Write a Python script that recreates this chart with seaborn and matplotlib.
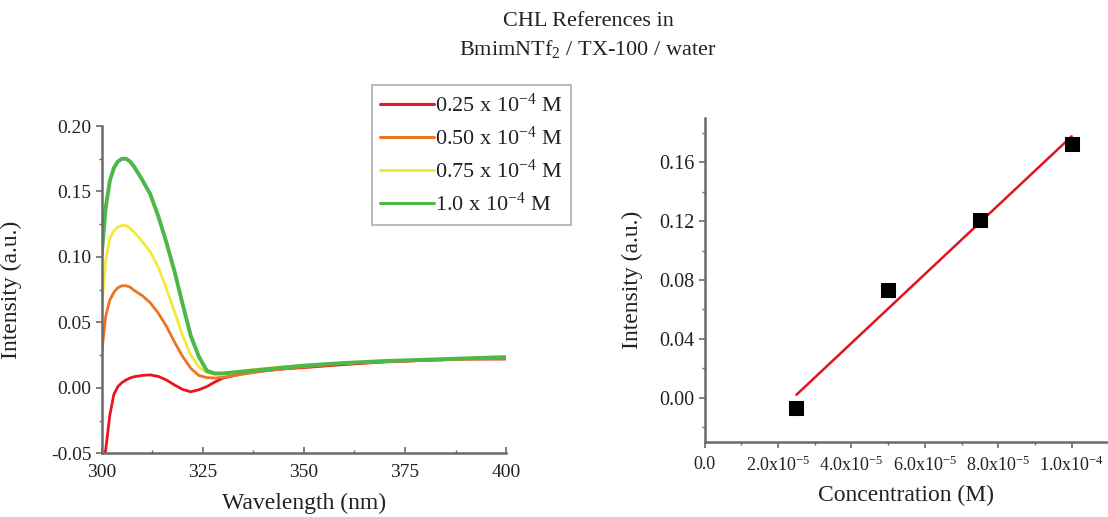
import numpy as np
import pandas as pd
import matplotlib
matplotlib.use("Agg")
import matplotlib.pyplot as plt
import seaborn as sns
from matplotlib.ticker import MultipleLocator, FormatStrFormatter, FixedLocator, FixedFormatter

# ---------------- data ----------------
wavelength = [300, 301, 302, 303, 304, 305, 306, 307, 308, 310, 312, 314, 316, 318, 320,
              322, 324, 326, 328, 330, 335, 340, 345, 350, 360, 370, 380, 390, 400]

int_025 = [-0.065, -0.047, -0.021, -0.005, 0.001, 0.004, 0.006, 0.0075, 0.0085, 0.0095, 0.0099,
           0.0087, 0.006, 0.0022, -0.0012, -0.003, -0.0015, 0.001, 0.0045, 0.0075, 0.011, 0.013,
           0.0145, 0.0155, 0.0178, 0.0198, 0.021, 0.022, 0.022]
int_050 = [0.027, 0.055, 0.067, 0.073, 0.0765, 0.078, 0.078, 0.077, 0.0745, 0.0705, 0.065,
           0.057, 0.047, 0.035, 0.024, 0.015, 0.0095, 0.0078, 0.0075, 0.008, 0.0105, 0.0128,
           0.0145, 0.016, 0.0185, 0.020, 0.021, 0.022, 0.0225]
int_075 = [0.060, 0.098, 0.114, 0.120, 0.123, 0.124, 0.124, 0.122, 0.119, 0.112, 0.104,
           0.092, 0.076, 0.058, 0.040, 0.025, 0.016, 0.0115, 0.0105, 0.011, 0.013, 0.0148,
           0.016, 0.0172, 0.019, 0.0205, 0.0215, 0.0225, 0.0235]
int_100 = [0.102, 0.138, 0.158, 0.168, 0.173, 0.175, 0.175, 0.173, 0.169, 0.159, 0.148,
           0.131, 0.111, 0.089, 0.064, 0.040, 0.024, 0.013, 0.011, 0.011, 0.0125, 0.014,
           0.0155, 0.017, 0.019, 0.0205, 0.0215, 0.0225, 0.0235]

series_labels = [r"0.25 x 10$^{-4}$ M", r"0.50 x 10$^{-4}$ M",
                 r"0.75 x 10$^{-4}$ M", r"1.0 x 10$^{-4}$ M"]
series_colors = ["#e8141e", "#ec7424", "#f2ea3a", "#4cb848"]

concentration = [2.5e-5, 5.0e-5, 7.5e-5, 1.0e-4]
conc_intensity = [-0.0072, 0.0735, 0.1205, 0.1725]

conc_ticks = [0.0, 2e-5, 4e-5, 6e-5, 8e-5, 1e-4]
conc_tick_labels = ["0.0", r"2.0x10$^{-5}$", r"4.0x10$^{-5}$", r"6.0x10$^{-5}$",
                    r"8.0x10$^{-5}$", r"1.0x10$^{-4}$"]

title_line1 = "CHL References in"
title_line2 = r"BmimNTf$_2$ / TX-100 / water"

# ---------------- style ----------------
sns.set_style("ticks")
plt.rcParams["font.family"] = ["Liberation Serif", "DejaVu Serif"]
plt.rcParams["mathtext.fontset"] = "custom"
plt.rcParams["mathtext.rm"] = "Liberation Serif"
plt.rcParams["mathtext.it"] = "Liberation Serif"
plt.rcParams["mathtext.bf"] = "Liberation Serif:bold"
plt.rcParams["axes.unicode_minus"] = False
spine_col = "#6a6a6a"
plt.rcParams["axes.edgecolor"] = spine_col
plt.rcParams["xtick.color"] = spine_col
plt.rcParams["ytick.color"] = spine_col
plt.rcParams["xtick.labelcolor"] = "#222222"
plt.rcParams["ytick.labelcolor"] = "#222222"
plt.rcParams["text.color"] = "#222222"
plt.rcParams["axes.labelcolor"] = "#222222"

fig = plt.figure(figsize=(11.08, 5.17), dpi=100)
ax1 = fig.add_axes([0.0918, 0.1232, 0.365, 0.633])
ax2 = fig.add_axes([0.636, 0.1457, 0.363, 0.6255])

# ---------------- left: spectra ----------------
frames = []
for lab, vals in zip(series_labels, [int_025, int_050, int_075, int_100]):
    frames.append(pd.DataFrame({"Wavelength": wavelength, "Intensity": vals, "Sample": lab}))
df = pd.concat(frames, ignore_index=True)

sns.lineplot(data=df, x="Wavelength", y="Intensity", hue="Sample", hue_order=series_labels,
             palette=series_colors, estimator=None, sort=False, linewidth=2.0, ax=ax1)
ax1.lines[3].set_linewidth(2.8)
for ln in ax1.lines:
    ln.set_solid_joinstyle("round")

ax1.set_xlim(300, 400)
ax1.set_ylim(-0.05, 0.20)
ax1.xaxis.set_major_locator(MultipleLocator(25))
ax1.xaxis.set_minor_locator(MultipleLocator(12.5))
ax1.yaxis.set_major_locator(MultipleLocator(0.05))
ax1.yaxis.set_minor_locator(MultipleLocator(0.025))
ax1.yaxis.set_major_formatter(FormatStrFormatter("%.2f"))
ax1.tick_params(axis="x", which="both", direction="in", labelsize=14, pad=8)
ax1.tick_params(axis="y", which="both", direction="out", labelsize=14)
ax1.tick_params(which="major", length=4, width=1.2)
ax1.tick_params(which="minor", length=2.5, width=1.0)
for s in ["left", "bottom"]:
    ax1.spines[s].set_linewidth(1.8)
sns.despine(ax=ax1)
ax1.set_xlabel("Wavelength (nm)", fontsize=17)
ax1.set_ylabel("Intensity (a.u.)", fontsize=17)
ax1.xaxis.set_label_coords(0.5, -0.12)
ax1.yaxis.set_label_coords(-0.197, 0.5)

handles, labels = ax1.get_legend_handles_labels()
leg = ax1.legend(handles, labels, loc="upper left",
                 bbox_to_anchor=(372 / 1108, 1 - 85 / 517), bbox_transform=fig.transFigure,
                 fontsize=16, frameon=True, fancybox=False, handlelength=2.4,
                 handletextpad=0.05, labelspacing=0.45, borderpad=0.38, borderaxespad=0)
leg.get_frame().set_edgecolor("#9a9a9a")
leg.get_frame().set_linewidth(1.2)
for h in leg.get_lines():
    h.set_linewidth(2.2)

# ---------------- right: calibration ----------------
sns.regplot(x=concentration, y=conc_intensity, scatter=False, ci=None, truncate=True,
            color="#e0141e", line_kws={"linewidth": 1.8}, ax=ax2)
sns.scatterplot(x=concentration, y=conc_intensity, marker="s", s=90, color="black",
                edgecolor="black", zorder=3, ax=ax2)
ax2.set_xlim(0, 1.096e-4)
ax2.set_ylim(-0.03, 0.19)
ax2.xaxis.set_major_locator(FixedLocator(conc_ticks))
ax2.xaxis.set_major_formatter(FixedFormatter(conc_tick_labels))
ax2.xaxis.set_minor_locator(MultipleLocator(1e-5))
ax2.yaxis.set_major_locator(MultipleLocator(0.04))
ax2.yaxis.set_minor_locator(MultipleLocator(0.02))
ax2.yaxis.set_major_formatter(FormatStrFormatter("%.2f"))
ax2.tick_params(axis="x", which="both", direction="out", labelsize=13, pad=6)
ax2.tick_params(axis="y", which="both", direction="out", labelsize=14.5)
ax2.tick_params(which="major", length=4, width=1.2)
ax2.tick_params(which="minor", length=2.5, width=1.0)
for s in ["left", "bottom"]:
    ax2.spines[s].set_linewidth(1.8)
sns.despine(ax=ax2)
ax2.set_xlabel("Concentration (M)", fontsize=17)
ax2.set_ylabel("Intensity (a.u.)", fontsize=17)
ax2.xaxis.set_label_coords(0.5, -0.135)
ax2.yaxis.set_label_coords(-0.154, 0.5)

# ---------------- title ----------------
fig.text(588 / 1108, 1 - 21 / 517, title_line1, ha="center", va="center", fontsize=16)
fig.text(588 / 1108, 1 - 49 / 517, title_line2, ha="center", va="center", fontsize=16)

fig.savefig("out.png", dpi=100)
